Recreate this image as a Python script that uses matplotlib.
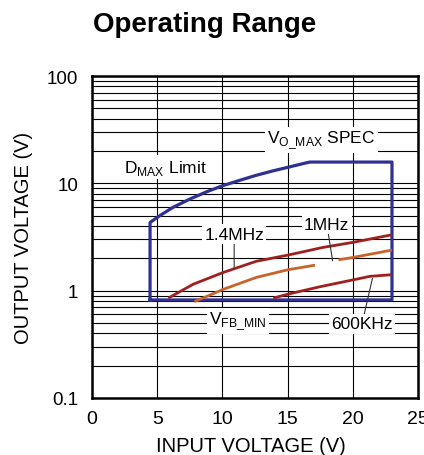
import numpy as np
import matplotlib
matplotlib.use("Agg")
import matplotlib.pyplot as plt
from matplotlib.ticker import LogLocator, FixedLocator, NullFormatter

plt.rcParams['font.family'] = ['Liberation Sans', 'DejaVu Sans']
plt.rcParams['mathtext.fontset'] = 'custom'
plt.rcParams['mathtext.rm'] = 'Liberation Sans'

# operating boundary (Dmax limit + Vo max spec + Vin max + Vfb min)
bound_vin = [4.45, 4.45, 5.2, 6.2, 7.5, 8.8, 10.0, 11.35, 12.6, 13.9, 15.0, 16.2, 16.7,
             23.0, 23.0, 4.45]
bound_vout = [0.82, 4.32, 5.0, 5.97, 7.14, 8.36, 9.5, 10.7, 11.9, 13.1, 14.1, 15.3, 15.8,
              15.8, 0.82, 0.82]

# 1.4MHz curve
f14_vin = [5.85, 7.77, 10.07, 12.6, 15.05, 17.7, 20.0, 23.0]
f14_vout = [0.853, 1.15, 1.48, 1.88, 2.15, 2.53, 2.82, 3.32]

# 1MHz curve (two segments)
f1a_vin = [7.85, 10.07, 12.6, 15.05, 17.1]
f1a_vout = [0.79, 1.03, 1.33, 1.57, 1.73]
f1b_vin = [18.9, 20.0, 23.0]
f1b_vout = [1.94, 2.04, 2.39]

# 600KHz curve
f600_vin = [13.9, 15.05, 17.5, 20.0, 21.3, 23.0]
f600_vout = [0.853, 0.93, 1.09, 1.26, 1.36, 1.41]

xticks = [0, 5, 10, 15, 20, 25]
yticks = [0.1, 1, 10, 100]
ytick_labels = ["0.1", "1", "10", "100"]

blue = '#2E3192'
red = '#A0201E'
orange = '#C8642A'

fig = plt.figure(figsize=(4.24, 4.56), dpi=100)
ax = fig.add_axes([0.217, 0.125, 0.769, 0.706])

ax.set_yscale('log')
ax.set_xlim(0, 25)
ax.set_ylim(0.1, 100)

# grid
ax.xaxis.set_major_locator(FixedLocator(xticks))
ax.yaxis.set_major_locator(FixedLocator(yticks))
ax.yaxis.set_minor_locator(LogLocator(base=10, subs=np.arange(2, 10)))
ax.yaxis.set_minor_formatter(NullFormatter())
ax.set_yticklabels(ytick_labels)
ax.grid(True, which='both', axis='y', color='black', lw=0.8)
ax.grid(True, which='major', axis='x', color='black', lw=0.8)
ax.set_axisbelow(True)
ax.tick_params(which='both', length=0)
ax.tick_params(axis='y', labelsize=13.5, pad=10)
ax.tick_params(axis='x', labelsize=14, pad=9)
for s in ax.spines.values():
    s.set_linewidth(1.8)

ax.plot(bound_vin, bound_vout, color=blue, lw=2.3, zorder=4, solid_joinstyle='round')
ax.plot(f14_vin, f14_vout, color=red, lw=2.0, zorder=5, solid_capstyle='butt')
ax.plot(f1a_vin, f1a_vout, color=orange, lw=2.0, zorder=5, solid_capstyle='butt')
ax.plot(f1b_vin, f1b_vout, color=orange, lw=2.0, zorder=5, solid_capstyle='butt')
ax.plot(f600_vin, f600_vout, color=red, lw=2.0, zorder=5, solid_capstyle='butt')

box = dict(facecolor='white', edgecolor='none', pad=1.5)
fs = 12.5
lead = dict(arrowstyle='-', color='#333333', lw=0.8, shrinkA=0, shrinkB=0)
ax.text(17.6, 25.4, r'V$_{\mathregular{O\_MAX}}$ SPEC', fontsize=fs, ha='center', va='center', bbox=box, zorder=6)
ax.text(5.6, 14.2, r'D$_{\mathregular{MAX}}$ Limit', fontsize=fs, ha='center', va='center', bbox=box, zorder=6)
ax.text(11.2, 0.52, r'V$_{\mathregular{FB\_MIN}}$', fontsize=fs, ha='center', va='center', bbox=box, zorder=6)

ax.annotate('1.4MHz', xy=(10.9, 1.62), xytext=(10.9, 3.37), fontsize=fs, ha='center', va='center',
            bbox=box, zorder=6, arrowprops=lead)
ax.annotate('1MHz', xy=(18.45, 1.9), xytext=(18.0, 4.18), fontsize=fs, ha='center', va='center',
            bbox=box, zorder=6, arrowprops=lead)
ax.annotate('600KHz', xy=(21.5, 1.3), xytext=(20.7, 0.49), fontsize=fs, ha='center', va='center',
            bbox=box, zorder=6, arrowprops=lead)

ax.set_xlabel('INPUT VOLTAGE (V)', fontsize=14.5)
ax.set_ylabel('OUTPUT VOLTAGE (V)', fontsize=14.5)
ax.xaxis.set_label_coords(0.488, -0.118)
ax.yaxis.set_label_coords(-0.18, 0.5)

fig.text(0.483, 0.946, 'Operating Range', fontsize=20, fontweight='bold', ha='center', va='center')

fig.savefig('out.png', dpi=100)
